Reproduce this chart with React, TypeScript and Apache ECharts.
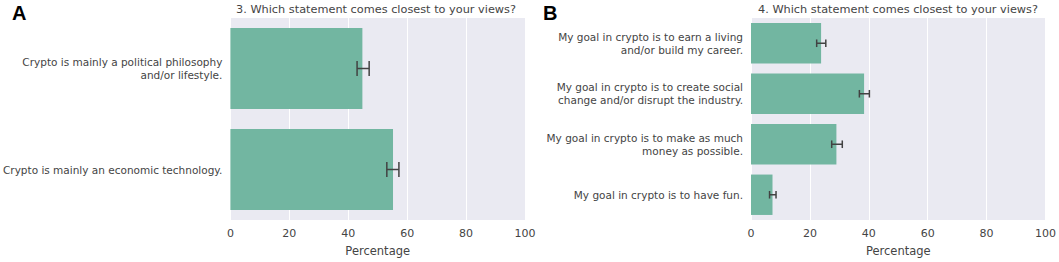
import React, { useEffect, useRef } from "react";
import * as echarts from "echarts";

const titleA = "3. Which statement comes closest to your views?";
const titleB = "4. Which statement comes closest to your views?";
const categoriesA = [
  "Crypto is mainly a political philosophy\nand/or lifestyle.",
  "Crypto is mainly an economic technology.",
];
const valuesA = [44.8, 55.2];
const errLowA = [43.0, 53.1];
const errHighA = [47.1, 57.2];

const categoriesB = [
  "My goal in crypto is to earn a living\nand/or build my career.",
  "My goal in crypto is to create social\nchange and/or disrupt the industry.",
  "My goal in crypto is to make as much\nmoney as possible.",
  "My goal in crypto is to have fun.",
];
const valuesB = [23.8, 38.4, 29.0, 7.3];
const errLowB = [22.3, 36.8, 27.4, 6.3];
const errHighB = [25.4, 40.2, 31.0, 8.5];

const xTicks = [0, 20, 40, 60, 80, 100];

const FONT = "DejaVu Sans";
const TEXT = "#444444";
const BAR = "#72b6a1";
const BG = "#eaeaf2";
const ERR = "#424242";

function errorSeries(idx: number, low: number[], high: number[]) {
  return {
    type: "custom",
    xAxisIndex: idx,
    yAxisIndex: idx,
    z: 5,
    data: low.map((l, i) => [i, l, high[i]]),
    renderItem: (params: any, api: any) => {
      const c = api.value(0);
      const lo = api.coord([api.value(1), c]);
      const hi = api.coord([api.value(2), c]);
      const band = api.size([0, 1])[1];
      const h = band * 0.075;
      const style = { stroke: ERR, lineWidth: 1.5, fill: "none" };
      return {
        type: "group",
        children: [
          { type: "line", shape: { x1: lo[0], y1: lo[1], x2: hi[0], y2: hi[1] }, style },
          { type: "line", shape: { x1: lo[0], y1: lo[1] - h, x2: lo[0], y2: lo[1] + h }, style },
          { type: "line", shape: { x1: hi[0], y1: hi[1] - h, x2: hi[0], y2: hi[1] + h }, style },
        ],
      };
    },
  };
}

function xAxis(idx: number) {
  return {
    type: "value",
    gridIndex: idx,
    min: xTicks[0],
    max: xTicks[xTicks.length - 1],
    interval: 20,
    axisLine: { show: false },
    axisTick: { show: false },
    axisLabel: { color: TEXT, fontFamily: FONT, fontSize: 11, margin: 8 },
    splitLine: { show: true, lineStyle: { color: "#ffffff", width: 1 } },
    name: "Percentage",
    nameLocation: "middle",
    nameGap: 25,
    nameTextStyle: { color: TEXT, fontFamily: FONT, fontSize: 11.5 },
  };
}

function yAxis(idx: number, cats: string[]) {
  return {
    type: "category",
    gridIndex: idx,
    data: cats,
    inverse: true,
    axisLine: { show: false },
    axisTick: { show: false },
    splitLine: { show: false },
    axisLabel: {
      color: TEXT,
      fontFamily: FONT,
      fontSize: 10.5,
      lineHeight: 13,
      margin: 8,
    },
  };
}

export default function App() {
  const ref = useRef<HTMLDivElement>(null);
  useEffect(() => {
    if (!ref.current) return;
    const chart = echarts.init(ref.current, undefined, { renderer: "svg" });
    chart.setOption({
      animation: false,
      backgroundColor: "#ffffff",
      grid: [
        { left: 229, width: 296, top: 18, height: 210, backgroundColor: BG, show: true, borderWidth: 0 },
        { left: 751, width: 296, top: 18, height: 210, backgroundColor: BG, show: true, borderWidth: 0 },
      ],
      xAxis: [xAxis(0), xAxis(1)],
      yAxis: [yAxis(0, categoriesA), yAxis(1, categoriesB)],
      series: [
        {
          type: "bar",
          xAxisIndex: 0,
          yAxisIndex: 0,
          data: valuesA,
          barCategoryGap: "20%",
          itemStyle: { color: BAR },
        },
        errorSeries(0, errLowA, errHighA),
        {
          type: "bar",
          xAxisIndex: 1,
          yAxisIndex: 1,
          data: valuesB,
          barCategoryGap: "20%",
          itemStyle: { color: BAR },
        },
        errorSeries(1, errLowB, errHighB),
      ],
      graphic: [
        {
          type: "text",
          x: 376,
          y: 9,
          style: { text: titleA, fill: TEXT, font: `11.3px "${FONT}"`, textAlign: "center", textVerticalAlign: "middle" },
        },
        {
          type: "text",
          x: 898,
          y: 9,
          style: { text: titleB, fill: TEXT, font: `11.3px "${FONT}"`, textAlign: "center", textVerticalAlign: "middle" },
        },
        {
          type: "text",
          x: 12,
          y: 13,
          style: { text: "A", fill: "#000000", font: `bold 20px "Liberation Sans"`, textAlign: "left", textVerticalAlign: "middle" },
        },
        {
          type: "text",
          x: 543,
          y: 13,
          style: { text: "B", fill: "#000000", font: `bold 20px "Liberation Sans"`, textAlign: "left", textVerticalAlign: "middle" },
        },
      ],
    });
    return () => chart.dispose();
  }, []);
  return (
    <div
      ref={ref}
      style={{ position: "fixed", left: 0, top: 0, width: 1059, height: 262 }}
    />
  );
}
